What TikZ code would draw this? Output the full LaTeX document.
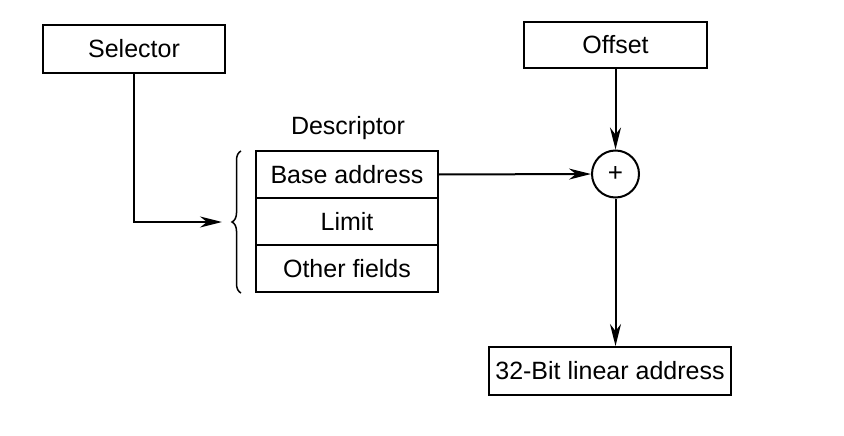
\documentclass[tikz,border=0pt]{standalone}
\usepackage{fontspec}
\setmainfont{Liberation Sans}
\usetikzlibrary{arrows.meta,decorations.pathreplacing}
\begin{document}
\begin{tikzpicture}[x=1pt,y=-1pt,
  box/.style={draw,line width=2pt,rectangle,inner sep=0pt,font=\fontsize{25}{28}\selectfont},
  lbl/.style={inner sep=0pt,font=\fontsize{25}{28}\selectfont},
  conn/.style={line width=2pt,-{Stealth[length=22pt,width=11pt,inset=7pt]}}]
\useasboundingbox (0,0) rectangle (844,436);
\node[box,minimum width=182pt,minimum height=48pt] (sel) at (134,49) {Selector};
\node[box,minimum width=183pt,minimum height=46pt] (off) at (615.5,45) {Offset};
\node[lbl] (desc) at (348,128) {Descriptor};
\node[box,minimum width=182pt,minimum height=47pt] (base) at (347,174.5) {Base address};
\node[box,minimum width=182pt,minimum height=47pt] (limit) at (347,221.5) {Limit};
\node[box,minimum width=182pt,minimum height=47pt] (other) at (347,268.5) {Other fields};
\node[draw,line width=2pt,circle,minimum size=47pt,inner sep=0pt,font=\fontsize{26}{28}\selectfont] (plus) at (615.5,174) {+};
\node[box,minimum width=242pt,minimum height=48pt] (out) at (610,371) {32-Bit linear address};
\coordinate (btop) at (241,151);
\coordinate (bbot) at (241,293);
\coordinate (tip) at (222,222);
\draw[line width=1.5pt,decorate,decoration={brace,amplitude=9pt,mirror}] (btop) -- (bbot);
\draw[conn] (sel.south) |- (tip);
\draw[conn] (base.east) -- (plus.west);
\draw[conn] (off.south) -- (plus.north);
\draw[conn] (plus.south) -- (plus.south |- out.north);
\end{tikzpicture}
\end{document}
